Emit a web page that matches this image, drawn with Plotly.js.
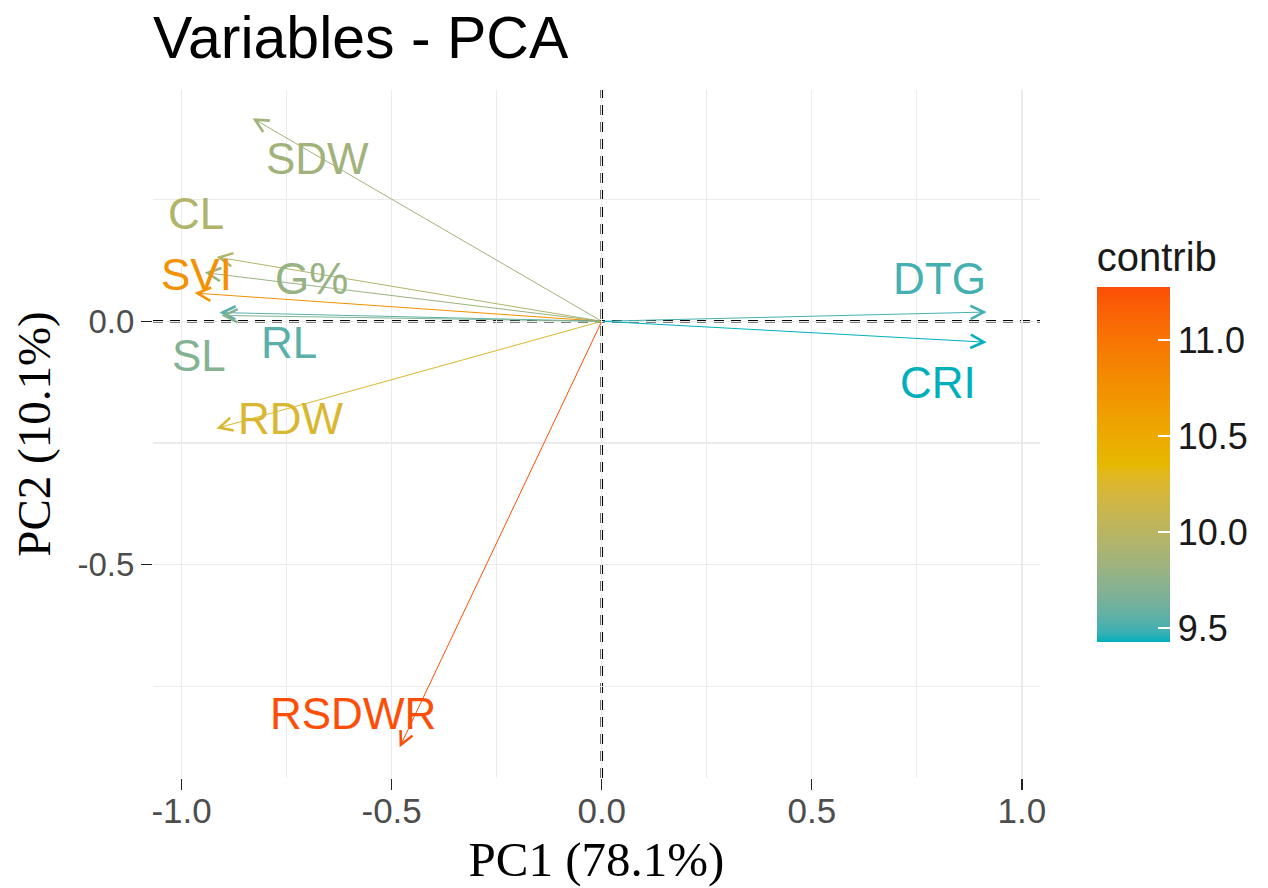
<!DOCTYPE html>
<html>
<head>
<meta charset="utf-8">
<script src="https://cdn.plot.ly/plotly-3.0.1.min.js"></script>
<style>html,body{margin:0;padding:0;background:#fff;}#chart{width:1268px;height:888px;}</style>
</head>
<body>
<div id="chart"></div>
<script>
// ---- data ----
var variables = ['SDW', 'CL', 'G%', 'SVI', 'RL', 'SL', 'RDW', 'RSDWR', 'DTG', 'CRI'];
var pc1 = [-0.831, -0.917, -0.945, -0.969, -0.910, -0.905, -0.917, -0.481, 0.916, 0.916];
var pc2 = [0.417, 0.132, 0.100, 0.058, 0.018, 0.012, -0.220, -0.875, 0.019, -0.043];
var contrib = [9.85, 9.95, 9.80, 10.75, 9.55, 9.70, 10.25, 11.28, 9.50, 9.43];
var colorbarTicks = [9.5, 10.0, 10.5, 11.0];
var xTicks = [-1.0, -0.5, 0.0, 0.5, 1.0];
var yTicks = [-0.5, 0.0];
var xTitle = 'PC1 (78.1%)';
var yTitle = 'PC2 (10.1%)';
var chartTitle = 'Variables - PCA';
var legendTitle = 'contrib';

// ---- styling ----
var gradientStops = ['#00AFBB', '#E7B800', '#FC4E07'];
// label pixel offsets from the arrow tips (repelled labels)
var labelShiftX = [65, -20, 107, 2, 70, -22, 75, -47, -47, -49];
var labelShiftY = [-40, 44, -6, 19, -30, -40, 10, 34, 34, -40];

function hexToRgb(h) { h = h.replace('#', ''); return [parseInt(h.substr(0,2),16), parseInt(h.substr(2,2),16), parseInt(h.substr(4,2),16)]; }
function toLin(c) { c /= 255; return c <= 0.04045 ? c / 12.92 : Math.pow((c + 0.055) / 1.055, 2.4); }
function fromLin(c) { var v = c <= 0.0031308 ? 12.92 * c : 1.055 * Math.pow(c, 1 / 2.4) - 0.055; return Math.round(Math.max(0, Math.min(1, v)) * 255); }
function rgbToLab(rgb) {
  var r = toLin(rgb[0]), g = toLin(rgb[1]), b = toLin(rgb[2]);
  var X = (0.4124 * r + 0.3576 * g + 0.1805 * b) / 0.95047;
  var Y = (0.2126 * r + 0.7152 * g + 0.0722 * b);
  var Z = (0.0193 * r + 0.1192 * g + 0.9505 * b) / 1.08883;
  function f(t) { return t > 0.008856 ? Math.cbrt(t) : 7.787 * t + 16 / 116; }
  var fx = f(X), fy = f(Y), fz = f(Z);
  return [116 * fy - 16, 500 * (fx - fy), 200 * (fy - fz)];
}
function labToRgb(lab) {
  var fy = (lab[0] + 16) / 116, fx = fy + lab[1] / 500, fz = fy - lab[2] / 200;
  function fi(t) { var t3 = t * t * t; return t3 > 0.008856 ? t3 : (t - 16 / 116) / 7.787; }
  var X = fi(fx) * 0.95047, Y = fi(fy), Z = fi(fz) * 1.08883;
  var r = 3.2406 * X - 1.5372 * Y - 0.4986 * Z;
  var g = -0.9689 * X + 1.8758 * Y + 0.0415 * Z;
  var b = 0.0557 * X - 0.2040 * Y + 1.0570 * Z;
  return [fromLin(r), fromLin(g), fromLin(b)];
}
var labStops = gradientStops.map(function (h) { return rgbToLab(hexToRgb(h)); });
function gradColor(t) {
  t = Math.max(0, Math.min(1, t));
  var seg = t < 0.5 ? 0 : 1;
  var u = (t - seg * 0.5) / 0.5;
  var a = labStops[seg], b = labStops[seg + 1];
  var lab = [a[0] + (b[0] - a[0]) * u, a[1] + (b[1] - a[1]) * u, a[2] + (b[2] - a[2]) * u];
  var c = labToRgb(lab);
  return 'rgb(' + c[0] + ',' + c[1] + ',' + c[2] + ')';
}
var cmin = Math.min.apply(null, contrib);
var cmax = Math.max.apply(null, contrib);
var colorscale = [];
for (var k = 0; k <= 40; k++) { colorscale.push([k / 40, gradColor(k / 40)]); }
function colorOf(v) { return gradColor((v - cmin) / (cmax - cmin)); }

var annotations = [];
for (var i = 0; i < variables.length; i++) {
  var col = colorOf(contrib[i]);
  annotations.push({
    x: pc1[i], y: pc2[i], xref: 'x', yref: 'y',
    ax: 0, ay: 0, axref: 'x', ayref: 'y',
    text: '', showarrow: true, arrowhead: 5, arrowsize: 2.6, arrowwidth: 1,
    arrowcolor: col, standoff: 0
  });
}
for (var j = 0; j < variables.length; j++) {
  annotations.push({
    x: pc1[j], y: pc2[j], xref: 'x', yref: 'y',
    text: variables[j], showarrow: false,
    xshift: labelShiftX[j], yshift: labelShiftY[j],
    xanchor: 'center', yanchor: 'middle',
    font: { family: 'Liberation Sans, Arial, sans-serif', size: 44, color: colorOf(contrib[j]) }
  });
}

var colorTrace = {
  type: 'scatter', mode: 'markers', x: pc1, y: pc2, hoverinfo: 'skip', showlegend: false,
  marker: {
    size: 2, opacity: 0, color: contrib, colorscale: colorscale, cmin: cmin, cmax: cmax,
    showscale: true,
    colorbar: {
      title: { text: legendTitle, side: 'top', font: { family: 'Liberation Sans, Arial, sans-serif', size: 40, color: '#1A1A1A' } },
      x: 1.064, xanchor: 'left', xref: 'paper',
      y: 0.492, yanchor: 'middle', yref: 'paper',
      len: 404, lenmode: 'pixels', thickness: 73, thicknessmode: 'pixels',
      xpad: 0, ypad: 0, outlinewidth: 0,
      tickvals: colorbarTicks, ticktext: colorbarTicks.map(function (v) { return v.toFixed(1); }),
      ticks: 'inside', ticklen: 12, tickcolor: '#FFFFFF', tickwidth: 1.5,
      tickfont: { family: 'Liberation Sans, Arial, sans-serif', size: 36, color: '#1A1A1A' }
    }
  }
};

var gridColor = '#EBEBEB';
var layout = {
  width: 1268, height: 888,
  margin: { l: 153, r: 228, t: 90, b: 110, pad: 0, autoexpand: false },
  paper_bgcolor: '#FFFFFF', plot_bgcolor: '#FFFFFF',
  showlegend: false,
  title: {
    text: chartTitle, x: 153 / 1268, xanchor: 'left', xref: 'container',
    y: 1 - 37 / 888, yanchor: 'middle', yref: 'container',
    font: { family: 'Liberation Sans, Arial, sans-serif', size: 59, color: '#000000' }
  },
  xaxis: {
    range: [-1.068, 1.043], tickvals: xTicks, ticktext: xTicks.map(function (v) { return v.toFixed(1); }),
    showgrid: true, gridcolor: gridColor, gridwidth: 1.2, zeroline: false, showline: false,
    minor: { dtick: 0.25, tick0: 0, showgrid: true, gridcolor: gridColor, gridwidth: 1.2 },
    ticks: 'outside', ticklen: 11, tickcolor: '#222222', tickwidth: 1.3,
    ticklabelstandoff: -9, automargin: false,
    tickfont: { family: 'Liberation Sans, Arial, sans-serif', size: 35, color: '#4D4D4D' },
    title: { text: xTitle, standoff: 12, font: { family: 'Liberation Serif, Times New Roman, serif', size: 49, color: '#000000' } },
    fixedrange: true
  },
  yaxis: {
    range: [-0.938, 0.475], tickvals: yTicks, ticktext: yTicks.map(function (v) { return v.toFixed(1); }),
    showgrid: true, gridcolor: gridColor, gridwidth: 1.2, zeroline: false, showline: false,
    minor: { dtick: 0.25, tick0: 0, showgrid: true, gridcolor: gridColor, gridwidth: 1.2 },
    ticks: 'outside', ticklen: 11, tickcolor: '#222222', tickwidth: 1.3, automargin: false,
    tickfont: { family: 'Liberation Sans, Arial, sans-serif', size: 33, color: '#4D4D4D' },
    title: { text: yTitle, standoff: 12, font: { family: 'Liberation Serif, Times New Roman, serif', size: 47, color: '#000000' } },
    fixedrange: true
  },
  shapes: [
    { type: 'line', xref: 'x', yref: 'paper', x0: 0, x1: 0, y0: 0, y1: 1, line: { color: '#000000', width: 2.6, dash: '10px,7px' }, layer: 'between' },
    { type: 'line', xref: 'paper', yref: 'y', x0: 0, x1: 1, y0: 0, y1: 0, line: { color: '#000000', width: 2.6, dash: '10px,7px' }, layer: 'between' }
  ],
  annotations: annotations
};

Plotly.newPlot('chart', [colorTrace], layout, { displayModeBar: false, staticPlot: true });
</script>
</body>
</html>
